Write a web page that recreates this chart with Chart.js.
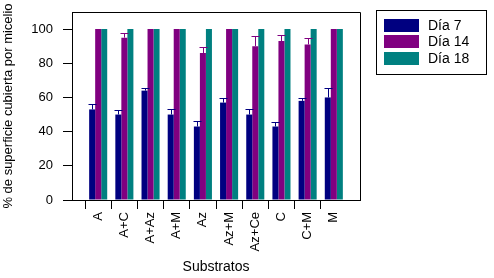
<!DOCTYPE html>
<html>
<head>
<meta charset="utf-8">
<script src="https://cdn.jsdelivr.net/npm/chart.js@4"></script>
<style>
  html, body { margin: 0; padding: 0; background: #fff; }
</style>
</head>
<body>
<canvas id="chart" width="494" height="278"></canvas>
<script>
// Datos
const categories = ['A', 'A+C', 'A+Az', 'A+M', 'Az', 'Az+M', 'Az+Ce', 'C', 'C+M', 'M'];
const dia7 = [53, 50, 64, 50, 43, 57, 50, 43, 58, 60];
const dia14 = [100, 95, 100, 100, 86, 100, 90, 93, 91, 100];
const dia18 = [100, 100, 100, 100, 100, 100, 100, 100, 100, 100];
const err7 = [3, 2.5, 1.6, 3, 3, 2.8, 3, 2.8, 1.6, 5.6];
const err14 = [0, 3, 0, 0, 3.3, 0, 5.8, 3.5, 4, 0];
const err18 = [0, 0, 0, 0, 0, 0, 0, 0, 0, 0];
const yTicks = [0, 20, 40, 60, 80, 100];

const seriesNames = ['Día 7', 'Día 14', 'Día 18'];
const colors = ['#000080', '#800080', '#008080'];
const errors = [err7, err14, err18];

// categorías vacías en los extremos para dejar margen
const pad = arr => [null, ...arr, null];
const labels = ['', ...categories, ''];

const font = { family: 'Arial, "Liberation Sans", sans-serif', size: 13 };

// barras de error (solo hacia arriba)
const errorBars = {
    id: 'errorBars',
    afterDatasetsDraw(chart) {
        const ctx = chart.ctx;
        const y = chart.scales.y;
        chart.data.datasets.forEach((ds, i) => {
            const meta = chart.getDatasetMeta(i);
            meta.data.forEach((bar, j) => {
                const e = errors[i][j - 1];
                const v = ds.data[j];
                if (!e || v == null) return;
                const top = Math.round(y.getPixelForValue(v + e)) + 0.5;
                const cx = Math.round(bar.x) + 0.5;
                ctx.save();
                ctx.strokeStyle = colors[i];
                ctx.lineWidth = 1;
                ctx.beginPath();
                ctx.moveTo(cx, bar.y);
                ctx.lineTo(cx, top);
                ctx.moveTo(cx - 4, top);
                ctx.lineTo(cx + 4, top);
                ctx.stroke();
                ctx.restore();
            });
        });
    }
};

// marco y leyenda
const frameLegend = {
    id: 'frameLegend',
    afterDraw(chart) {
        const ctx = chart.ctx;
        const a = chart.chartArea;
        ctx.save();
        ctx.strokeStyle = '#000';
        ctx.lineWidth = 1;
        ctx.beginPath();
        ctx.moveTo(Math.round(a.left) + 0.5, Math.round(a.top) + 0.5);
        ctx.lineTo(Math.round(a.right) + 0.5, Math.round(a.top) + 0.5);
        ctx.lineTo(Math.round(a.right) + 0.5, Math.round(a.bottom) + 0.5);
        ctx.stroke();

        // leyenda
        const lx = 376.5, ly = 10.5;
        ctx.strokeRect(lx, ly, 110, 64);
        ctx.font = '14px Arial, "Liberation Sans", sans-serif';
        ctx.textBaseline = 'middle';
        ctx.fillStyle = '#000';
        seriesNames.forEach((name, i) => {
            const top = 19 + i * 16.3;
            ctx.fillStyle = colors[i];
            ctx.fillRect(384, Math.round(top), 35, 13);
            ctx.fillStyle = '#000';
            ctx.fillText(name, 428, Math.round(top) + 7);
        });
        ctx.restore();
    }
};

new Chart(document.getElementById('chart'), {
    type: 'bar',
    data: {
        labels: labels,
        datasets: [
            { label: seriesNames[0], data: pad(dia7), backgroundColor: colors[0] },
            { label: seriesNames[1], data: pad(dia14), backgroundColor: colors[1] },
            { label: seriesNames[2], data: pad(dia18), backgroundColor: colors[2] }
        ]
    },
    options: {
        responsive: false,
        animation: false,
        layout: { padding: { top: 12, right: 134, left: 0, bottom: 0 } },
        datasets: {
            bar: { categoryPercentage: 0.69, barPercentage: 1 }
        },
        plugins: {
            legend: { display: false },
            tooltip: { enabled: false }
        },
        scales: {
            x: {
                offset: false,
                afterFit: s => {
                    s.height = 78;
                    s.paddingLeft = 0;
                    s.paddingRight = 0;
                },
                border: { color: '#000', width: 1 },
                grid: {
                    drawOnChartArea: false,
                    tickLength: 9,
                    tickColor: c => (c.index === labels.length - 1 ? 'rgba(0,0,0,0)' : '#000')
                },
                ticks: {
                    autoSkip: false,
                    minRotation: 90,
                    maxRotation: 90,
                    padding: 3,
                    color: '#000',
                    font: font
                },
                title: {
                    display: true,
                    text: 'Substratos',
                    color: '#000',
                    font: { family: font.family, size: 14 },
                    padding: { top: 2, bottom: 2 }
                }
            },
            y: {
                min: 0,
                max: 110,
                afterFit: s => {
                    s.width = 72;
                    s.paddingTop = 0;
                    s.paddingBottom = 0;
                },
                afterBuildTicks: s => { s.ticks = yTicks.map(v => ({ value: v })); },
                border: { color: '#000', width: 1 },
                grid: { drawOnChartArea: false, tickLength: 9, tickColor: '#000' },
                ticks: {
                    padding: 10,
                    color: '#000',
                    font: font
                },
                title: {
                    display: true,
                    text: '% de superficie cubierta por micelio',
                    color: '#000',
                    font: font,
                    padding: { top: 1, bottom: 1 }
                }
            }
        }
    },
    plugins: [errorBars, frameLegend]
});
</script>
</body>
</html>
